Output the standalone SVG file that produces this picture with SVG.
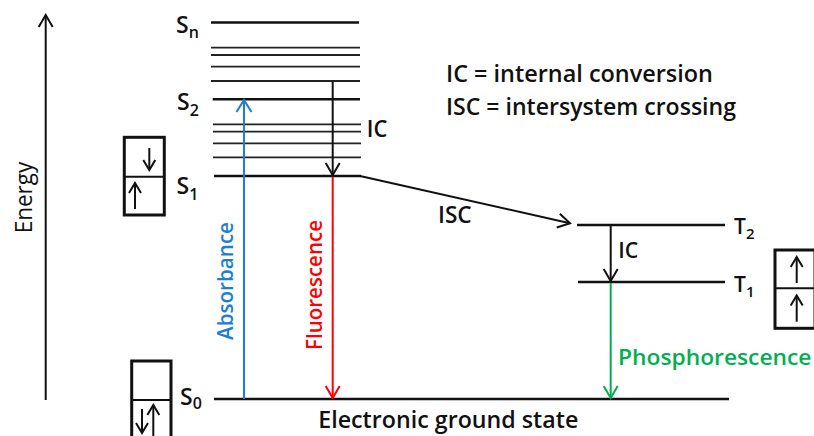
<svg xmlns="http://www.w3.org/2000/svg" width="814" height="436" viewBox="0 0 814 436">
<style>
  text { font-family: "Open Sans", "Liberation Sans", sans-serif; fill: #111; font-weight: 600; }
  .lvl { stroke: #111; stroke-width: 2.6; fill: none; }
  .vib { stroke: #222; stroke-width: 1.8; fill: none; }
  .box { stroke: #111; stroke-width: 3; fill: #fff; }
  .arr { stroke-width: 2; fill: none; }
  .sarr { stroke: #111; stroke-width: 2; fill: none; }
</style>
<defs>
  <marker id="hk" markerUnits="userSpaceOnUse" viewBox="-14 -9 16 18" refX="0" refY="0" markerWidth="16" markerHeight="18" orient="auto" overflow="visible">
    <path d="M-12,-7 L0,0 L-12,7" fill="none" stroke="#111" stroke-width="2"/>
  </marker>
  <marker id="hb" markerUnits="userSpaceOnUse" viewBox="-14 -9 16 18" refX="0" refY="0" markerWidth="16" markerHeight="18" orient="auto" overflow="visible">
    <path d="M-12,-7.5 L0,0 L-12,7.5" fill="none" stroke="#1e7fd2" stroke-width="2"/>
  </marker>
  <marker id="hr" markerUnits="userSpaceOnUse" viewBox="-14 -9 16 18" refX="0" refY="0" markerWidth="16" markerHeight="18" orient="auto" overflow="visible">
    <path d="M-12,-7 L0,0 L-12,7" fill="none" stroke="#ff0000" stroke-width="2"/>
  </marker>
  <marker id="hg" markerUnits="userSpaceOnUse" viewBox="-14 -9 16 18" refX="0" refY="0" markerWidth="16" markerHeight="18" orient="auto" overflow="visible">
    <path d="M-12,-7 L0,0 L-12,7" fill="none" stroke="#00b050" stroke-width="2"/>
  </marker>
  <marker id="hs" markerUnits="userSpaceOnUse" viewBox="-10 -7 12 14" refX="0" refY="0" markerWidth="12" markerHeight="14" orient="auto" overflow="visible">
    <path d="M-10,-6 L0,0 L-10,6" fill="none" stroke="#111" stroke-width="2"/>
  </marker>
</defs>

<!-- Energy axis -->
<g id="energy-axis">
  <line x1="45.7" y1="400" x2="45.7" y2="15" class="arr" stroke="#111" marker-end="url(#hk)"/>
  <text transform="translate(31.7,233.3) rotate(-90)" font-size="23" style="font-weight:500" textLength="71.6" lengthAdjust="spacingAndGlyphs">Energy</text>
</g>

<!-- Singlet levels -->
<g id="Sn">
  <line class="lvl" x1="211" y1="22.5" x2="359" y2="22.5"/>
  <text x="176" y="33.3" font-size="23">S<tspan font-size="16" dy="5">n</tspan></text>
</g>
<g id="Sn-vib">
  <line class="vib" x1="211" y1="47.7" x2="360" y2="47.7"/>
  <line class="vib" x1="211" y1="55" x2="360" y2="55"/>
  <line class="vib" x1="211" y1="66.7" x2="360" y2="66.7"/>
  <line class="vib" x1="211" y1="81" x2="360" y2="81"/>
</g>
<g id="S2">
  <line class="lvl" x1="212.7" y1="99.3" x2="360" y2="99.3"/>
  <text x="177" y="110" font-size="23">S<tspan font-size="16" dy="6">2</tspan></text>
</g>
<g id="S2-vib">
  <line class="vib" x1="213" y1="124.3" x2="361" y2="124.3"/>
  <line class="vib" x1="213" y1="131.7" x2="361" y2="131.7"/>
  <line class="vib" x1="213" y1="143.3" x2="361" y2="143.3"/>
  <line class="vib" x1="213" y1="157.3" x2="361" y2="157.3"/>
</g>
<g id="S1">
  <line class="lvl" x1="214" y1="176" x2="361" y2="176"/>
  <text x="176.5" y="194" font-size="23">S<tspan font-size="16" dy="6">1</tspan></text>
</g>
<g id="S0">
  <line class="lvl" x1="214" y1="399" x2="729" y2="399"/>
  <text x="180" y="405" font-size="23">S<tspan font-size="16" dy="4">0</tspan></text>
  <text x="318.3" y="428.3" font-size="23" textLength="260" lengthAdjust="spacingAndGlyphs">Electronic ground state</text>
</g>

<!-- Triplet levels -->
<g id="T2">
  <line class="lvl" x1="577" y1="225" x2="725" y2="225"/>
  <text x="734" y="234" font-size="21">T<tspan font-size="15" dy="5">2</tspan></text>
</g>
<g id="T1">
  <line class="lvl" x1="578" y1="282" x2="725" y2="282"/>
  <text x="734" y="292" font-size="21">T<tspan font-size="15" dy="5">1</tspan></text>
</g>

<!-- Spin boxes -->
<g id="box-S1">
  <rect class="box" x="124.3" y="137.3" width="40" height="77.7"/>
  <line class="sarr" x1="124.3" y1="176.7" x2="164.3" y2="176.7"/>
  <line class="sarr" x1="149.3" y1="148" x2="149.3" y2="170" marker-end="url(#hs)"/>
  <line class="sarr" x1="135" y1="209" x2="135" y2="183" marker-end="url(#hs)"/>
</g>
<g id="box-S0">
  <rect class="box" x="131.7" y="361" width="39.3" height="80"/>
  <line class="sarr" x1="131.7" y1="400" x2="171" y2="400"/>
  <line class="sarr" x1="142" y1="409" x2="142" y2="433" marker-end="url(#hs)"/>
  <line class="sarr" x1="153.3" y1="438" x2="153.3" y2="405" marker-end="url(#hs)"/>
</g>
<g id="box-T1">
  <rect class="box" x="775" y="250" width="40" height="78.3"/>
  <line class="sarr" x1="775" y1="288.3" x2="815" y2="288.3"/>
  <line class="sarr" x1="796.7" y1="283" x2="796.7" y2="257" marker-end="url(#hs)"/>
  <line class="sarr" x1="796.7" y1="321.7" x2="796.7" y2="295.5" marker-end="url(#hs)"/>
</g>

<!-- Legend -->
<g id="legend">
  <text x="446" y="81.7" font-size="23" textLength="267" lengthAdjust="spacingAndGlyphs">IC = internal conversion</text>
  <text x="446" y="115" font-size="23" textLength="290" lengthAdjust="spacingAndGlyphs">ISC = intersystem crossing</text>
</g>

<!-- Connectors -->
<g id="connectors">
  <line class="arr" stroke="#1e7fd2" x1="244" y1="399" x2="244" y2="100" marker-end="url(#hb)"/>
  <line class="arr" stroke="#111" x1="332.7" y1="81" x2="332.7" y2="175" marker-end="url(#hk)"/>
  <line class="arr" stroke="#ff0000" x1="332.7" y1="177" x2="332.7" y2="398" marker-end="url(#hr)"/>
  <line class="arr" stroke="#111" x1="360" y1="176" x2="570" y2="223.3" marker-end="url(#hk)"/>
  <line class="arr" stroke="#111" x1="610.7" y1="225" x2="610.7" y2="281" marker-end="url(#hk)"/>
  <line class="arr" stroke="#00b050" x1="610.7" y1="283" x2="610.7" y2="398" marker-end="url(#hg)"/>
</g>

<!-- Connector labels -->
<g id="labels">
  <text x="366.7" y="137.3" font-size="23" textLength="20.6" lengthAdjust="spacingAndGlyphs">IC</text>
  <text x="438" y="223" font-size="23" textLength="33.7" lengthAdjust="spacingAndGlyphs">ISC</text>
  <text x="618.3" y="258.3" font-size="21" textLength="20" lengthAdjust="spacingAndGlyphs">IC</text>
  <text transform="translate(233,340) rotate(-90)" font-size="21" style="fill:#1e7fd2" textLength="118" lengthAdjust="spacingAndGlyphs">Absorbance</text>
  <text transform="translate(321.7,350) rotate(-90)" font-size="21" style="fill:#ff0000" textLength="130" lengthAdjust="spacingAndGlyphs">Fluorescence</text>
  <text x="618" y="364.5" font-size="21" style="fill:#00b050" textLength="193.5" lengthAdjust="spacingAndGlyphs">Phosphorescence</text>
</g>
</svg>
